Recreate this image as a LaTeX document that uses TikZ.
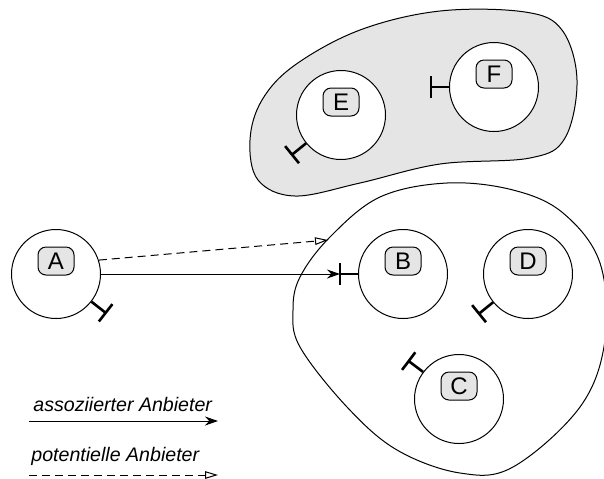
\documentclass[tikz,border=0pt]{standalone}
\usepackage{fontspec}
\setmainfont{Liberation Sans}
\usetikzlibrary{arrows.meta}

\tikzset{
  agent/.style={circle, draw, fill=white, minimum size=44.5pt, inner sep=0pt, line width=0.5pt},
  lbl/.style={draw, rounded corners=4pt, fill=black!10, minimum width=18pt, minimum height=14pt, inner sep=0pt, line width=0.5pt, font=\fontsize{12}{14}\selectfont},
  tick/.style={line width=1.3pt},
  assoc/.style={-{Stealth[length=6.5pt,width=4.5pt]}, line width=0.5pt},
  potent/.style={-{Triangle[open,length=6.5pt,width=3.8pt]}, dash pattern=on 4pt off 2.5pt, line width=0.5pt},
  legend/.style={anchor=west, inner sep=0pt, font=\fontsize{9.8}{12}\selectfont\itshape}
}

\begin{document}
\begin{tikzpicture}[x=0.5pt, y=-0.5pt]
    \useasboundingbox (0,0) rectangle (604,478);

    % Regions (groups of providers)
    \draw[fill=black!10, line width=0.5pt] plot[smooth cycle, tension=0.6] coordinates {
      (440,11) (525,12) (562,30) (577,80) (565,138) (530,158) (440,164)
      (360,183) (295,196) (258,180) (250,140) (262,100) (295,65) (360,30)};
    \draw[line width=0.5pt] plot[smooth cycle, tension=0.6] coordinates {
      (447,183) (513,190) (563,213) (600,263) (605,340) (580,407) (513,467)
      (460,473) (397,450) (347,407) (300,347) (293,310) (300,277) (330,237) (380,197)};

    % Agents
    \node[agent] (A) at (56,274) {};
    \node[agent] (B) at (403,274) {};
    \node[agent] (C) at (459,399) {};
    \node[agent] (D) at (528,274) {};
    \node[agent] (E) at (341,115) {};
    \node[agent] (F) at (494,87) {};

    % Names
    \foreach \n in {A,B,C,D,E,F}
      \node[lbl] (\n-l) at ([yshift=6.5pt]\n.center) {\n};

    % Plugs
    \foreach \n/\ang in {A/322,B/180,C/143,D/219,E/219,F/180}
      \draw[tick] (\n.\ang) -- ++(\ang:9pt) coordinate (\n-t)
        ++(\ang+90:5.5pt) -- ++(\ang-90:11pt);

    % Connections
    \coordinate (pot) at (328,240);
    \draw[assoc] (A) -- (B-t);
    \draw[potent] (A.18) -- (pot);

    % Legend
    \node[legend] (assoc-l) at (33,404) {assoziierter Anbieter};
    \coordinate (assoc-s) at (29,421);
    \coordinate (assoc-e) at (218,421);
    \draw[assoc] (assoc-s) -- (assoc-e);

    \node[legend] (potent-l) at (31,456) {potentielle Anbieter};
    \coordinate (potent-s) at (29,475);
    \coordinate (potent-e) at (218,475);
    \draw[potent] (potent-s) -- (potent-e);
\end{tikzpicture}
\end{document}
